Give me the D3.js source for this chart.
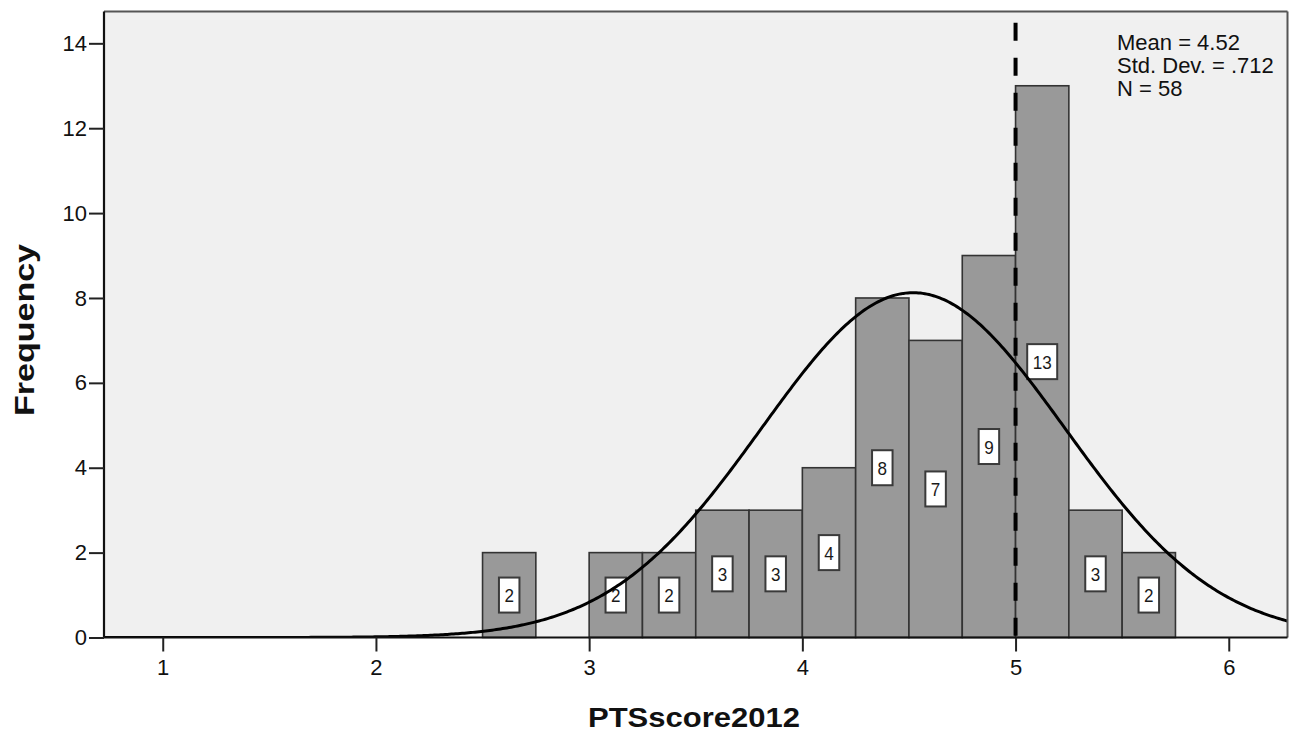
<!DOCTYPE html>
<html>
<head>
<meta charset="utf-8">
<script src="https://cdn.jsdelivr.net/npm/d3@7/dist/d3.min.js"></script>
<style>
  html, body { margin: 0; padding: 0; background: #ffffff; }
  svg { display: block; }
  text { font-family: Arial, "Liberation Sans", sans-serif; }
</style>
</head>
<body>
<svg id="chart" width="1291" height="735"></svg>
<script>
// Histogram of PTSscore2012 with fitted normal curve
const binStarts = [2.5, 3.0, 3.25, 3.5, 3.75, 4.0, 4.25, 4.5, 4.75, 5.0, 5.25, 5.5];
const binCounts = [2, 2, 2, 3, 3, 4, 8, 7, 9, 13, 3, 2];
const binWidth = 0.25;
const xTicks = [1, 2, 3, 4, 5, 6];
const yTicks = [0, 2, 4, 6, 8, 10, 12, 14];
const statMean = 4.52;
const statSD = 0.712;
const statN = 58;
const statLines = ["Mean = 4.52", "Std. Dev. = .712", "N = 58"];
const markerValue = 5;
const xTitle = "PTSscore2012";
const yTitle = "Frequency";

const plot = { left: 104, right: 1287.5, top: 11.5, bottom: 637.5 };

const x = d3.scaleLinear().domain([0.7245, 6.2755]).range([plot.left, plot.right]);
const y = d3.scaleLinear().domain([0, 14.75]).range([plot.bottom, plot.top]);

const svg = d3.select("#chart");

// plot background
svg.append("rect")
  .attr("x", plot.left).attr("y", plot.top)
  .attr("width", plot.right - plot.left).attr("height", plot.bottom - plot.top)
  .attr("fill", "#f0f0f0");

svg.append("defs").append("clipPath").attr("id", "plotClip")
  .append("rect")
  .attr("x", plot.left).attr("y", plot.top)
  .attr("width", plot.right - plot.left).attr("height", plot.bottom - plot.top);

const bins = binStarts.map((s, i) => ({ x0: s, x1: s + binWidth, n: binCounts[i] }));

// bars
svg.append("g").selectAll("rect").data(bins).join("rect")
  .attr("x", d => x(d.x0))
  .attr("y", d => y(d.n))
  .attr("width", d => x(d.x1) - x(d.x0))
  .attr("height", d => y(0) - y(d.n))
  .attr("fill", "#999999")
  .attr("stroke", "#333333")
  .attr("stroke-width", 1.6);

// count labels centred in each bar
const labelG = svg.append("g");
bins.forEach(d => {
  const s = String(d.n);
  const tw = 9.5 * s.length;
  const cx = x((d.x0 + d.x1) / 2);
  const cy = y(d.n / 2);
  labelG.append("rect")
    .attr("x", cx - (tw + 11) / 2).attr("y", cy - 17.5)
    .attr("width", tw + 11).attr("height", 35)
    .attr("fill", "#ffffff").attr("stroke", "#3a3a3a").attr("stroke-width", 2);
  labelG.append("text")
    .attr("x", cx).attr("y", cy + 7)
    .attr("text-anchor", "middle")
    .attr("font-size", 19)
    .attr("textLength", tw).attr("lengthAdjust", "spacingAndGlyphs")
    .attr("fill", "#1a1a1a")
    .text(s);
});

// fitted normal curve
const scaleN = statN * binWidth;
const pdf = v => scaleN / (statSD * Math.sqrt(2 * Math.PI)) * Math.exp(-0.5 * Math.pow((v - statMean) / statSD, 2));
const curvePts = d3.range(x.domain()[0], x.domain()[1] + 0.001, 0.01).map(v => [v, pdf(v)]);
svg.append("path")
  .attr("clip-path", "url(#plotClip)")
  .attr("d", d3.line().x(d => x(d[0])).y(d => y(d[1]))(curvePts))
  .attr("fill", "none").attr("stroke", "#000000").attr("stroke-width", 3);

// dashed reference line
svg.append("line")
  .attr("x1", x(markerValue)).attr("x2", x(markerValue))
  .attr("y1", plot.top).attr("y2", plot.bottom)
  .attr("stroke", "#000000").attr("stroke-width", 4)
  .attr("stroke-dasharray", "18,17").attr("stroke-dashoffset", 23.7);

// frame: top and right in grey, axes in black
svg.append("line").attr("x1", plot.left).attr("x2", plot.right).attr("y1", plot.top).attr("y2", plot.top)
  .attr("stroke", "#555555").attr("stroke-width", 2);
svg.append("line").attr("x1", plot.right).attr("x2", plot.right).attr("y1", plot.top).attr("y2", plot.bottom)
  .attr("stroke", "#555555").attr("stroke-width", 2);

// axes
const xAxis = d3.axisBottom(x).tickValues(xTicks).tickSize(14).tickPadding(8).tickFormat(d3.format("d"));
const gx = svg.append("g").attr("transform", `translate(0,${plot.bottom})`).call(xAxis);
gx.select(".domain").attr("d", `M${plot.left},0H${plot.right}`).attr("stroke", "#111").attr("stroke-width", 2.2);
gx.selectAll(".tick line").attr("stroke", "#222").attr("stroke-width", 2);
gx.selectAll(".tick text").attr("font-size", 22).attr("fill", "#111")
  .attr("font-family", "Arial, 'Liberation Sans', sans-serif");

const yAxis = d3.axisLeft(y).tickValues(yTicks).tickSize(15).tickPadding(2).tickFormat(d3.format("d"));
const gy = svg.append("g").attr("transform", `translate(${plot.left},0)`).call(yAxis);
gy.select(".domain").attr("d", `M0,${plot.top}V${plot.bottom}`).attr("stroke", "#111").attr("stroke-width", 2.2);
gy.selectAll(".tick line").attr("stroke", "#222").attr("stroke-width", 2);
gy.selectAll(".tick text").attr("font-size", 22).attr("fill", "#111")
  .attr("font-family", "Arial, 'Liberation Sans', sans-serif");

// summary statistics
const statG = svg.append("g");
statLines.forEach((t, i) => {
  statG.append("text")
    .attr("x", 1117).attr("y", 50 + i * 23)
    .attr("font-size", 22).attr("fill", "#111")
    .text(t);
});

// axis titles
svg.append("text")
  .attr("x", 694).attr("y", 727)
  .attr("text-anchor", "middle")
  .attr("font-size", 27).attr("font-weight", "bold").attr("fill", "#111")
  .attr("textLength", 212).attr("lengthAdjust", "spacingAndGlyphs")
  .text(xTitle);

svg.append("text")
  .attr("transform", "translate(34,330) rotate(-90)")
  .attr("text-anchor", "middle")
  .attr("font-size", 27).attr("font-weight", "bold").attr("fill", "#111")
  .attr("textLength", 172).attr("lengthAdjust", "spacingAndGlyphs")
  .text(yTitle);
</script>
</body>
</html>
